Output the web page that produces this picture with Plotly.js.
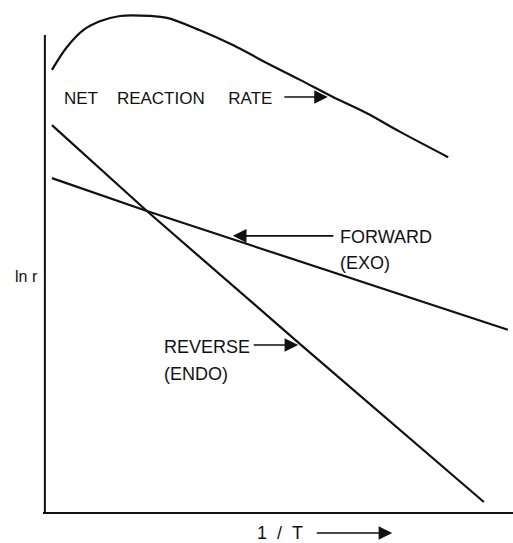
<!DOCTYPE html>
<html>
<head>
<meta charset="utf-8">
<script src="https://cdn.plot.ly/plotly-3.0.1.min.js"></script>
<style>
  html, body { margin: 0; padding: 0; background: #fff; }
  #chart { width: 513px; height: 543px; }
</style>
</head>
<body>
<div id="chart"></div>
<script>
// 1/T (arbitrary units) and ln r (arbitrary units)
const netX = [0.19, 0.51, 0.85, 1.21, 1.64, 2.28, 2.64, 3.34, 4.04, 4.77, 5.47, 6.17, 6.89, 7.60, 8.62];
const netY = [9.27, 9.75, 10.10, 10.29, 10.40, 10.40, 10.36, 10.10, 9.79, 9.41, 9.06, 8.70, 8.36, 7.97, 7.44];
const forwardX = [0.19, 2.21, 9.89];
const forwardY = [7.00, 6.31, 3.82];
const reverseX = [0.19, 2.21, 5.47, 9.38];
const reverseY = [8.11, 6.31, 3.52, 0.21];

const INK = '#111';
const FONT = 'Liberation Sans, Arial, sans-serif';

const traces = [
  {x: netX, y: netY, mode: 'lines', line: {color: INK, width: 2.2, shape: 'spline'}, hoverinfo: 'skip'},
  {x: forwardX, y: forwardY, mode: 'lines', line: {color: INK, width: 2.2}, hoverinfo: 'skip'},
  {x: reverseX, y: reverseY, mode: 'lines', line: {color: INK, width: 2.2}, hoverinfo: 'skip'}
];

function label(text, x, y, size, extra) {
  return Object.assign({
    text: text, x: x, y: y, xref: 'x', yref: 'y',
    xanchor: 'left', yanchor: 'middle', showarrow: false,
    font: {family: FONT, size: size, color: INK}
  }, extra || {});
}
function arrow(x, y, ax, extra) {
  return Object.assign({
    text: '', x: x, y: y, xref: 'x', yref: 'y',
    ax: ax, ay: 0, axref: 'pixel', ayref: 'pixel',
    showarrow: true, arrowhead: 2, arrowsize: 1.7, arrowwidth: 1.6,
    arrowcolor: INK, standoff: 0, startstandoff: 0
  }, extra || {});
}

const layout = {
  width: 513, height: 543,
  margin: {l: 43, r: 0, t: 5, b: 31},
  paper_bgcolor: '#fff', plot_bgcolor: '#fff',
  showlegend: false,
  xaxis: {range: [0, 10], showgrid: false, zeroline: false, showticklabels: false,
          ticks: '', showline: true, linecolor: INK, linewidth: 2, fixedrange: true},
  yaxis: {range: [0, 10.63], showgrid: false, zeroline: false, showticklabels: false,
          ticks: '', showline: false, fixedrange: true},
  shapes: [
    {type: 'line', xref: 'x', yref: 'y', x0: 0.04, x1: 0.04, y0: 0, y1: 10.0,
     line: {color: INK, width: 2}}
  ],
  annotations: [
    label('NET\u00a0\u00a0\u00a0 REACTION\u00a0\u00a0\u00a0\u00a0 RATE', 0.40, 8.68, 17),
    arrow(6.06, 8.70, -45),
    label('FORWARD', 6.28, 5.77, 18),
    label('(EXO)', 6.28, 5.22, 18),
    arrow(4.04, 5.79, 102),
    label('REVERSE', 2.53, 3.46, 18),
    label('(ENDO)', 2.53, 2.89, 18),
    arrow(5.43, 3.50, -46),
    label('ln r', -0.036, 4.93, 16, {xref: 'paper', xanchor: 'center'}),
    label('1\u00a0\u00a0/\u00a0\u00a0T', 4.50, -0.0414, 18, {yref: 'paper'}),
    arrow(7.43, -0.0414, -77, {yref: 'paper'})
  ]
};

Plotly.newPlot('chart', traces, layout, {staticPlot: true, displayModeBar: false});
</script>
</body>
</html>
